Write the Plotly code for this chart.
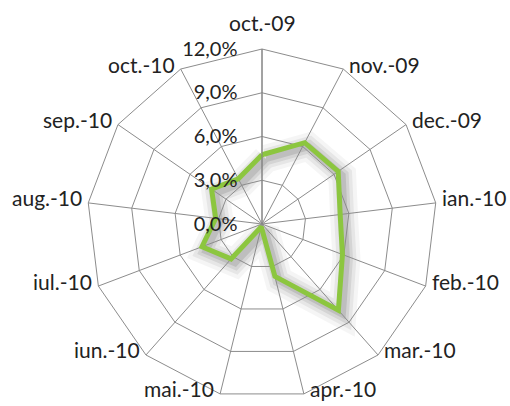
import math
import plotly.graph_objects as go

categories = ['oct.-09', 'nov.-09', 'dec.-09', 'ian.-10', 'feb.-10', 'mar.-10', 'apr.-10',
              'mai.-10', 'iun.-10', 'iul.-10', 'aug.-10', 'sep.-10', 'oct.-10']
values = [4.75, 6.3, 6.35, 5.4, 5.9, 7.9, 3.7, 0.2, 3.2, 4.4, 3.2, 4.2, 3.5]
radial_ticks = [0, 3, 6, 9, 12]
radial_labels = ['0,0%', '3,0%', '6,0%', '9,0%', '12,0%']

W, H = 510, 406
cx, cy, R = 262, 224, 175

theta = categories + categories[:1]
r = values + values[:1]

fig = go.Figure()

# soft shadow (same data, offset subplot)
for w, op in [(28, 0.04), (20, 0.06), (13, 0.08), (7, 0.10)]:
    fig.add_trace(go.Scatterpolar(r=r, theta=theta, mode='lines', subplot='polar',
                                  line=dict(color='rgba(0,0,0,%.2f)' % op, width=w),
                                  hoverinfo='skip', showlegend=False))

fig.add_trace(go.Scatterpolar(r=r, theta=theta, mode='lines', subplot='polar2',
                              line=dict(color='#8cc63f', width=5), showlegend=False))

def dom(dx, dy):
    return dict(x=[(cx - R + dx) / W, (cx + R + dx) / W],
                y=[(H - cy - R - dy) / H, (H - cy + R - dy) / H])

font = dict(family='Lato, Carlito, sans-serif', size=21, color='#222')
rfont = dict(family='Lato, Carlito, sans-serif', size=20, color='#222')

# category labels placed beside the outer vertices (Excel style)
n = len(categories)
annotations = []
for i, name in enumerate(categories):
    a = math.radians(i * 360.0 / n)
    vx = cx + R * math.sin(a)
    vy = cy - R * math.cos(a)
    if i == 0:
        annotations.append(dict(text=name, x=vx / W, y=1 - (vy - 12) / H, xref='paper', yref='paper',
                                xanchor='center', yanchor='bottom', showarrow=False, font=font))
    else:
        right = math.sin(a) > 0
        annotations.append(dict(text=name, x=(vx + (4 if right else -4)) / W, y=1 - (vy - 5) / H,
                                xref='paper', yref='paper',
                                xanchor='left' if right else 'right', yanchor='middle',
                                showarrow=False, font=font))

fig.update_layout(
    width=W, height=H, margin=dict(l=0, r=0, t=0, b=0),
    paper_bgcolor='white', plot_bgcolor='white', showlegend=False,
    annotations=annotations,
    polar=dict(
        domain=dom(4, 4), bgcolor='rgba(0,0,0,0)', gridshape='linear',
        radialaxis=dict(range=[0, 12], visible=False, showgrid=False),
        angularaxis=dict(categoryarray=categories, categoryorder='array', direction='clockwise',
                         rotation=90, visible=False, showgrid=False),
    ),
    polar2=dict(
        domain=dom(0, 0), bgcolor='rgba(0,0,0,0)', gridshape='linear',
        radialaxis=dict(range=[0, 12], tickvals=radial_ticks, ticktext=radial_labels,
                        angle=90, tickangle=90, side='counterclockwise',
                        showline=True, linecolor='#808080', linewidth=1,
                        gridcolor='#8c8c8c', gridwidth=1,
                        ticks='outside', ticklen=17, tickcolor='rgba(0,0,0,0)',
                        tickfont=rfont),
        angularaxis=dict(categoryarray=categories, categoryorder='array', direction='clockwise',
                         rotation=90, showline=True, linecolor='#8c8c8c', linewidth=1,
                         gridcolor='#8c8c8c', gridwidth=1, showticklabels=False, ticks=''),
    ),
)

fig.write_html('out.html', config={'displayModeBar': False},
               post_script="document.body.style.margin='0';document.body.style.overflow='hidden';")
